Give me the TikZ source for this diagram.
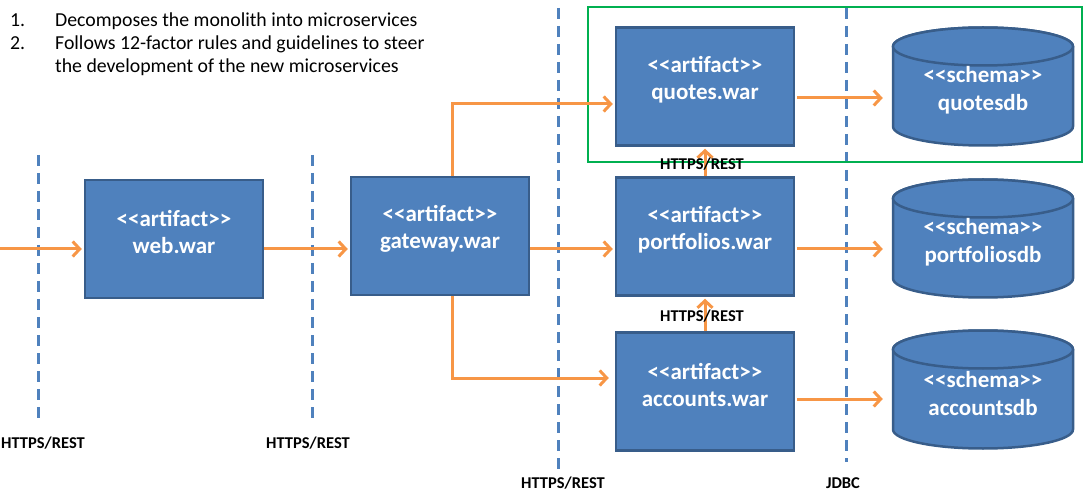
\documentclass[tikz,border=0pt]{standalone}
\usepackage{fontspec}
\setmainfont{Carlito}[Ligatures=TeXOff]
\usepackage{tikz}
\usetikzlibrary{arrows.meta,calc}
\definecolor{boxblue}{HTML}{4F81BD}
\definecolor{boxline}{HTML}{385D8A}
\definecolor{floworange}{HTML}{F79646}
\definecolor{scopegreen}{HTML}{00B050}
\newcommand{\drawArtifact}[4]{% name, center: x,y, file
  \node[artbox] (#1) at (#2, #3) {};
  \node[arttext] (#1text) at ([yshift=7]#1.center) {<<artifact>>\\#4};
}
\newcommand{\drawSchema}[4]{% name, center: x,y, db
  \draw[dbshape] (#2-90,#3+40) -- (#2-90,#3-40)
    arc[start angle=180,end angle=360,x radius=90pt,y radius=19pt]
    -- (#2+90,#3+40)
    arc[start angle=0,end angle=180,x radius=90pt,y radius=19pt] -- cycle;
  \draw[dbshape] (#2,#3+40) ellipse (90pt and 19pt);
  \node[dbtext] (#1) at (#2, #3-4) {<<schema>>\\#4};
}
\tikzset{
  artbox/.style={draw=boxline,fill=boxblue,line width=2.5pt,minimum width=178pt,minimum height=118pt,inner sep=0pt},
  arttext/.style={text=white,font=\fontsize{23}{27}\selectfont\bfseries,align=center,inner sep=0pt},
  dbshape/.style={draw=boxline,fill=boxblue,line width=2.5pt},
  dbtext/.style={text=white,font=\fontsize{23}{28}\selectfont\bfseries,align=center,minimum width=180pt,minimum height=120pt,inner sep=0pt},
  flow/.style={draw=floworange,line width=3pt,-{Straight Barb[length=7pt,width=15pt]},shorten >=2pt},
  divider/.style={draw=boxblue,line width=3pt,dash pattern=on 11pt off 7pt},
  proto/.style={font=\fontsize{16.5}{19}\selectfont\bfseries,inner sep=0pt},
}

\begin{document}
\begin{tikzpicture}[x=1pt,y=1pt]
\useasboundingbox (0,0) rectangle (1090,496);

% Goals
\node[anchor=base west,inner sep=0pt,font=\fontsize{19.8}{23}\selectfont] (goals) at (10,469)
  {\begin{tabular}[t]{@{}p{45pt}@{}l@{}}
   1. & Decomposes the monolith into microservices\\
   2. & Follows 12-factor rules and guidelines to steer\\
      & the development of the new microservices
   \end{tabular}};

% Tier boundaries
\draw[divider] (38,341) -- (38,76);
\draw[divider] (312,341) -- (312,76);
\draw[divider] (558,488) -- (558,26);
\draw[divider] (846,488) -- (846,34);

% Quotes scope
\draw[draw=scopegreen,line width=2.5pt] (588,489) rectangle (1082,334);

% Services
\drawArtifact{web}{174}{257}{web.war}
\drawArtifact{gateway}{440}{260}{gateway.war}
\drawArtifact{quotes}{705}{409.5}{quotes.war}
\drawArtifact{portfolios}{705}{259.5}{portfolios.war}
\drawArtifact{accounts}{705}{104.5}{accounts.war}

% Schemas
\drawSchema{quotesdb}{983}{409.5}{quotesdb}
\drawSchema{portfoliosdb}{983}{257.5}{portfoliosdb}
\drawSchema{accountsdb}{983}{106.5}{accountsdb}

% Calls
\coordinate (client) at (0,247);
\draw[flow] (client) -- (client -| web.west);
\draw[flow] ([yshift=-10]web.east) -- ([yshift=-10]web.east -| gateway.west);
\draw[flow] ([yshift=-13]gateway.east) -- ([yshift=-13]gateway.east -| portfolios.west);
\draw[flow] ([xshift=12]gateway.north) |- ([yshift=-17.5]quotes.west);
\draw[flow,shorten >=6pt] ([xshift=12]gateway.south) |- ([yshift=13.5]accounts.west);
\draw[flow] (portfolios.north) -- (quotes.south);
\draw[flow] (accounts.north) -- (portfolios.south);

% JDBC
\draw[flow,shorten <=2pt,shorten >=10pt] ([yshift=-11.5]quotes.east) -- ([yshift=-11.5]quotes.east -| quotesdb.west);
\draw[flow,shorten <=2pt,shorten >=10pt] ([yshift=-12.5]portfolios.east) -- ([yshift=-12.5]portfolios.east -| portfoliosdb.west);
\draw[flow,shorten <=2pt,shorten >=10pt] ([yshift=-7.5]accounts.east) -- ([yshift=-7.5]accounts.east -| accountsdb.west);

% Protocols
\node[proto] (rest1) at (43,53) {HTTPS/REST};
\node[proto] (rest2) at (308,53) {HTTPS/REST};
\node[proto] (rest3) at (563,13) {HTTPS/REST};
\node[proto] (jdbc) at (843,13) {JDBC};
\node[proto] (rest4) at (702,332) {HTTPS/REST};
\node[proto] (rest5) at (702,180) {HTTPS/REST};

\end{tikzpicture}
\end{document}
